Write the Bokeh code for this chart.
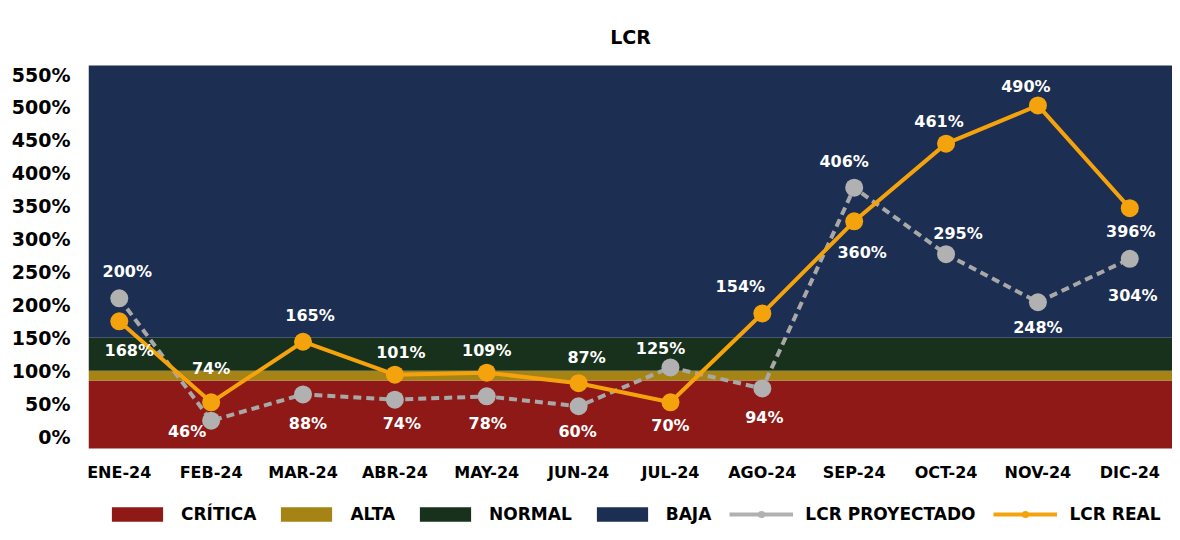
from bokeh.plotting import figure
from bokeh.layouts import column
from bokeh.models import Range1d, FixedTicker, NumeralTickFormatter, Legend, LegendItem, ColumnDataSource
from bokeh.embed import file_html
from bokeh.resources import INLINE
from bokeh.core.properties import value

# ---------------- data ----------------
months = ["ENE-24", "FEB-24", "MAR-24", "ABR-24", "MAY-24", "JUN-24",
          "JUL-24", "AGO-24", "SEP-24", "OCT-24", "NOV-24", "DIC-24"]
lcr_real = [1.75, 0.52, 1.44, 0.94, 0.97, 0.81, 0.52, 1.87, 3.27, 4.45, 5.03, 3.47]
lcr_real_labels = ["168%", "74%", "165%", "101%", "109%", "87%", "70%", "154%",
                   "360%", "461%", "490%", "396%"]
lcr_proj = [2.10, 0.24, 0.64, 0.56, 0.61, 0.46, 1.05, 0.73, 3.78, 2.77, 2.04, 2.70]
lcr_proj_labels = ["200%", "46%", "88%", "74%", "78%", "60%", "125%", "94%",
                   "406%", "295%", "248%", "304%"]
band_names = ["CRÍTICA", "ALTA", "NORMAL", "BAJA"]
band_bottoms = [-0.2, 0.85, 1.0, 1.5]
band_tops = [0.85, 1.0, 1.5, 5.8]
y_ticks = [0, 0.5, 1.0, 1.5, 2.0, 2.5, 3.0, 3.5, 4.0, 4.5, 5.0, 5.5]

# ---------------- style ----------------
FONT = "DejaVu Sans"
band_colors = ["#8E1916", "#A58314", "#18311C", "#1C2E51"]
ORANGE = "#F5A30C"
GRAY = "#B1B1B1"
GRAY_LINE = "#A8A8A8"

# label placement (screen px offsets relative to each point)
real_dx = [10, 0, 7, 6, 0, 8, 0, -22, 8, -7, -12, 1]
real_dy = [29, -34, -26, -22, -22, -26, 23, -27, 31, -22, -19, 23]
proj_dx = [8, -24, 5, 7, 1, -1, -10, 2, -10, 12, 0, 3]
proj_dy = [-27, 11, 29, 24, 27, 25, -19, 29, -26, -21, 25, 37]

xs = list(range(len(months)))
x0, x1 = -0.335, 11.465

W = 1172
p = figure(width=W, height=490, output_backend="svg", toolbar_location=None,
           x_range=Range1d(x0, x1), y_range=Range1d(-0.182, 5.637),
           min_border_left=88, min_border_right=0, min_border_top=65, min_border_bottom=42,
           title="LCR")
p.title.align = "center"
p.title.text_font = FONT
p.title.text_font_size = "19px"
p.title.text_font_style = "bold"
p.title.text_color = "#000000"
p.title.standoff = 36

p.outline_line_color = None
p.xgrid.visible = False
p.ygrid.visible = False

# bands
for b, t, c in zip(band_bottoms, band_tops, band_colors):
    p.quad(left=[x0], right=[x1], bottom=[b], top=[t], fill_color=c, line_color=None)

src_p = ColumnDataSource(dict(x=xs, y=lcr_proj, t=lcr_proj_labels, dx=proj_dx, dy=proj_dy))
src_r = ColumnDataSource(dict(x=xs, y=lcr_real, t=lcr_real_labels, dx=real_dx, dy=real_dy))

p.line("x", "y", source=src_p, line_color=GRAY_LINE, line_width=4, line_dash="8 5")
p.scatter("x", "y", source=src_p, size=18, fill_color=GRAY, line_color=None)
p.line("x", "y", source=src_r, line_color=ORANGE, line_width=4)
p.scatter("x", "y", source=src_r, size=18, fill_color=ORANGE, line_color=None)

for src in (src_p, src_r):
    p.text("x", "y", text="t", source=src, x_offset="dx", y_offset="dy",
           text_font=value(FONT), text_font_size="16px", text_font_style="bold",
           text_color="white", text_align="center", text_baseline="middle")

# axes
p.yaxis.ticker = FixedTicker(ticks=y_ticks)
p.yaxis.formatter = NumeralTickFormatter(format="0%")
p.yaxis.major_label_text_font = FONT
p.yaxis.major_label_text_font_size = "19px"
p.yaxis.major_label_text_font_style = "bold"
p.yaxis.major_label_text_color = "#000000"
p.yaxis.axis_line_color = None
p.yaxis.major_tick_line_color = None
p.yaxis.minor_tick_line_color = None
p.yaxis.major_label_standoff = 12

p.xaxis.ticker = FixedTicker(ticks=xs)
p.xaxis.major_label_overrides = {i: m for i, m in enumerate(months)}
p.xaxis.major_label_text_font = FONT
p.xaxis.major_label_text_font_size = "16px"
p.xaxis.major_label_text_font_style = "bold"
p.xaxis.major_label_text_color = "#000000"
p.xaxis.axis_line_color = None
p.xaxis.major_tick_line_color = None
p.xaxis.minor_tick_line_color = None
p.xaxis.major_label_standoff = 8

# ---------------- legend strip (separate figure, same series) ----------------
lf = figure(width=W, height=42, output_backend="svg", toolbar_location=None,
            x_range=Range1d(0, 1), y_range=Range1d(100, 101),
            x_axis_type=None, y_axis_type=None,
            min_border_left=0, min_border_right=0, min_border_top=0, min_border_bottom=0)
lf.outline_line_color = None
lf.xgrid.visible = False
lf.ygrid.visible = False

items = []
for name, b, t, c in zip(band_names, band_bottoms, band_tops, band_colors):
    r = lf.quad(left=[x0], right=[x1], bottom=[b], top=[t], fill_color=c, line_color=None)
    items.append(LegendItem(label=name, renderers=[r]))
lp1 = lf.line(xs, lcr_proj, line_color=GRAY, line_width=4)
lp2 = lf.scatter(xs, lcr_proj, size=18, fill_color=GRAY, line_color=None)
lr1 = lf.line(xs, lcr_real, line_color=ORANGE, line_width=4)
lr2 = lf.scatter(xs, lcr_real, size=18, fill_color=ORANGE, line_color=None)
items.append(LegendItem(label="LCR PROYECTADO", renderers=[lp1, lp2]))
items.append(LegendItem(label="LCR REAL", renderers=[lr1, lr2]))

legend = Legend(items=items, orientation="horizontal", location=(17, 8),
                glyph_width=64, glyph_height=18, label_standoff=12, spacing=18,
                label_text_font=FONT, label_text_font_size="17px",
                label_text_font_style="bold", label_text_color="#000000",
                border_line_color=None, background_fill_alpha=0,
                padding=0, margin=0)
lf.add_layout(legend, "center")

layout = column(p, lf, spacing=0)
open("out.html", "w").write(file_html(layout, INLINE))
